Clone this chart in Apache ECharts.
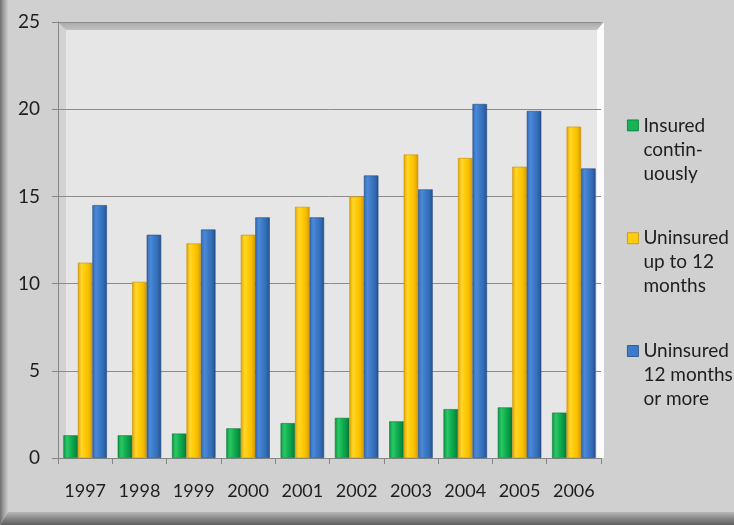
<!DOCTYPE html>
<html>
<head>
<meta charset="utf-8">
<script src="https://cdn.jsdelivr.net/npm/echarts@6/dist/echarts.min.js"></script>
<style>
  html, body { margin: 0; padding: 0; background: #d0d0d0; }
  #chart { width: 734px; height: 525px; }
</style>
</head>
<body>
<div id="chart"></div>
<script>
// Survey years
const years = ['1997', '1998', '1999', '2000', '2001', '2002', '2003', '2004', '2005', '2006'];

// Series names and wrapped legend labels
const seriesNames = ['Insured continuously', 'Uninsured up to 12 months', 'Uninsured 12 months or more'];
const legendLabels = ['Insured\ncontin-\nuously', 'Uninsured\nup to 12\nmonths', 'Uninsured\n12 months\nor more'];

// Percent of each group (values per year)
const insuredContinuously = [1.3, 1.3, 1.4, 1.7, 2.0, 2.3, 2.1, 2.8, 2.9, 2.6];
const uninsuredUpTo12 = [11.2, 10.1, 12.3, 12.8, 14.4, 15.0, 17.4, 17.2, 16.7, 19.0];
const uninsured12Plus = [14.5, 12.8, 13.1, 13.8, 13.8, 16.2, 15.4, 20.3, 19.9, 16.6];

// Value axis ticks
const yTicks = [0, 5, 10, 15, 20, 25];

const FONT = 'Lato';
const LINE_H = 24;

function barGradient(stops) {
  return new echarts.graphic.LinearGradient(0, 0, 1, 0,
    stops.map((c, i) => ({ offset: i / (stops.length - 1), color: c })));
}

const palettes = [
  { fill: barGradient(['#0b9242', '#2cc865', '#12b353', '#0a9a45', '#08773a']), edge: '#0a7a37', key: '#16b455' },
  { fill: barGradient(['#e2a200', '#ffd62a', '#ffcb05', '#f5bc00', '#d39700']), edge: '#c99000', key: '#ffcc10' },
  { fill: barGradient(['#3169b0', '#4b8ad8', '#3c79c8', '#336cb5', '#24508c']), edge: '#234c85', key: '#3f7bc8' }
];
const seriesData = [insuredContinuously, uninsuredUpTo12, uninsured12Plus];

// Legend key: an 11px square beside the first of three text lines.
// The tiny dots at the corners stretch the icon box to the full text height.
const KEY_H = LINE_H * 3;
const keyTop = (LINE_H - 11) / 2;
const legendIcon = 'path://M0,0h0.01v0.01h-0.01z M0,' + keyTop + 'h11v11h-11z M0,' + (KEY_H - 0.01) + 'h0.01v0.01h-0.01z';

const chart = echarts.init(document.getElementById('chart'), null, { renderer: 'canvas' });

// Plot box: left/right/top/bottom of the value area
const PL = 58, PR = 601, PT = 22, PB = 458, DEPTH = 8;

chart.setOption({
  backgroundColor: '#d0d0d0',
  animation: false,
  textStyle: { fontFamily: FONT },
  graphic: [
    // outer frame shading
    { type: 'polygon', z: -20, shape: { points: [[0, 0], [8, 0], [8, 512], [0, 525]] },
      style: { fill: new echarts.graphic.LinearGradient(0, 0, 1, 0, [
        { offset: 0, color: '#6f6f6f' }, { offset: 0.5, color: '#a4a4a4' }, { offset: 1, color: '#cacaca' }]) } },
    { type: 'polygon', z: -20, shape: { points: [[0, 525], [8, 512], [734, 512], [734, 525]] },
      style: { fill: new echarts.graphic.LinearGradient(0, 0, 0, 1, [
        { offset: 0, color: '#b8b8b8' }, { offset: 0.45, color: '#8c8c8c' }, { offset: 1, color: '#5e5e5e' }]) } },
    // plot walls
    { type: 'rect', z: -10, shape: { x: PL + DEPTH, y: PT + DEPTH, width: PR - PL - 2 * DEPTH + 4, height: PB - PT - DEPTH },
      style: { fill: '#e6e6e6' } },
    { type: 'polygon', z: -10, shape: { points: [[PL, PT], [PL + DEPTH, PT + DEPTH], [PL + DEPTH, PB], [PL, PB]] },
      style: { fill: '#d2d2d2' } },
    { type: 'polygon', z: -10, shape: { points: [[PL, PT], [PR + 3, PT], [PR - 4, PT + DEPTH], [PL + DEPTH, PT + DEPTH]] },
      style: { fill: new echarts.graphic.LinearGradient(0, 0, 0, 1, [
        { offset: 0, color: '#a9a9a9' }, { offset: 1, color: '#c2c2c2' }]) } },
    { type: 'polygon', z: -10, shape: { points: [[PR + 3, PT], [PR + 3, PB], [PR - 4, PB], [PR - 4, PT + DEPTH]] },
      style: { fill: '#fbfbfb' } }
  ],
  grid: { left: PL, right: 734 - PR, top: PT, bottom: 525 - PB, containLabel: false },
  legend: {
    orient: 'vertical',
    left: 627,
    top: 113,
    padding: 0,
    itemWidth: 11,
    itemHeight: KEY_H,
    itemGap: 40,
    icon: legendIcon,
    data: seriesNames.map((name, i) => ({
      name,
      itemStyle: { color: palettes[i].key, borderColor: palettes[i].edge, borderWidth: 0.8 }
    })),
    formatter: name => legendLabels[seriesNames.indexOf(name)],
    textStyle: { fontFamily: FONT, fontSize: 19, color: '#1e1e1e', lineHeight: LINE_H }
  },
  xAxis: {
    type: 'category',
    data: years,
    axisLine: { lineStyle: { color: '#868686', width: 1 } },
    axisTick: { show: true, length: 6, interval: 0, alignWithLabel: false, lineStyle: { color: '#868686' } },
    axisLabel: { fontFamily: FONT, fontSize: 18, color: '#1e1e1e', margin: 24, interval: 0, hideOverlap: false }
  },
  yAxis: {
    type: 'value',
    min: 0,
    max: yTicks[yTicks.length - 1],
    interval: 5,
    axisLine: { show: true, lineStyle: { color: '#868686' } },
    axisTick: { show: true, length: 6, lineStyle: { color: '#868686' } },
    splitLine: { show: true, lineStyle: { color: '#8c8c8c', width: 1 } },
    axisLabel: { fontFamily: FONT, fontSize: 19, color: '#1e1e1e', margin: 18 }
  },
  series: seriesNames.map((name, i) => ({
    name,
    type: 'bar',
    barWidth: 14.5,
    barGap: '0%',
    data: seriesData[i],
    itemStyle: { color: palettes[i].fill, borderColor: palettes[i].edge, borderWidth: 0.6 }
  }))
});
</script>
</body>
</html>
